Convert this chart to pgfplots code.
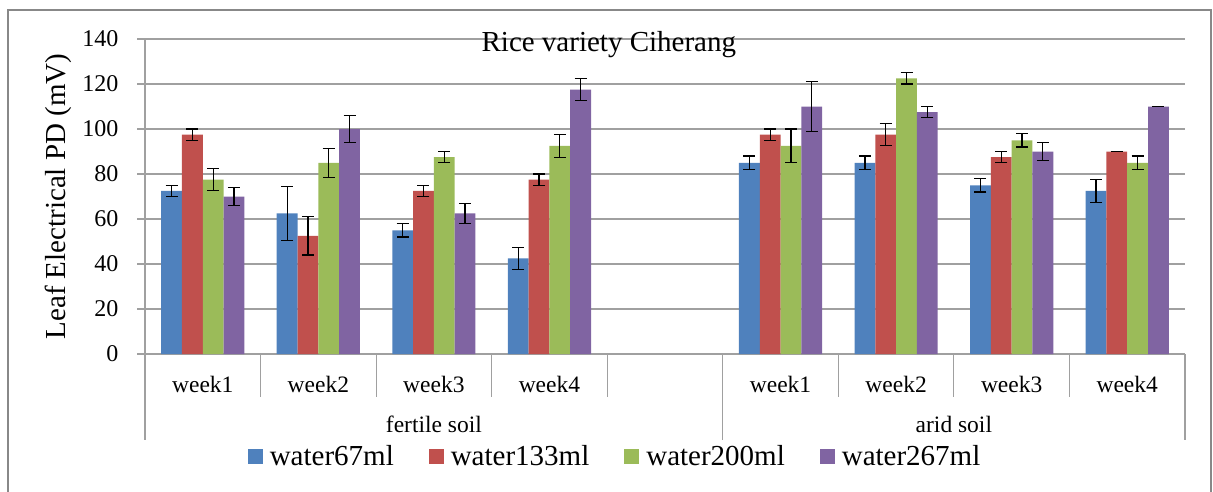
\documentclass[border=0pt]{standalone}
\usepackage{fontspec}
\setmainfont{Liberation Serif}
\usepackage{pgfplots}
\usepackage{pgfplotstable}
\pgfplotsset{compat=1.18}

\definecolor{cblue}{HTML}{4F81BD}
\definecolor{cred}{HTML}{C0504D}
\definecolor{cgreen}{HTML}{9BBB59}
\definecolor{cpurple}{HTML}{8064A2}
\definecolor{lgray}{HTML}{A0A0A0}
\definecolor{fgray}{HTML}{888888}

\newcommand{\tickfont}{\fontsize{24}{28}\selectfont}
\newcommand{\catfont}{\fontsize{23.5}{27}\selectfont}
\newcommand{\bigfont}{\fontsize{29}{33}\selectfont}

% water 67 ml
\pgfplotstableread{
x y e
0 72.5 2.5
1 62.5 12
2 55 3
3 42.5 5
5 85 3
6 85 3
7 75 3
8 72.5 5
}\tblA
% water 133 ml
\pgfplotstableread{
x y e
0 97.5 2.5
1 52.5 8.5
2 72.5 2.5
3 77.5 2.5
5 97.5 2.5
6 97.5 5
7 87.5 2.5
8 90 0
}\tblB
% water 200 ml
\pgfplotstableread{
x y e
0 77.5 5
1 85 6.5
2 87.5 2.5
3 92.5 5
5 92.5 7.5
6 122.5 2.5
7 95 3
8 85 3
}\tblC
% water 267 ml
\pgfplotstableread{
x y e
0 70 4
1 100 6
2 62.5 4.5
3 117.5 5
5 110 11
6 107.5 2.5
7 90 4
8 110 0
}\tblD

\begin{document}
\begin{tikzpicture}
\useasboundingbox (0pt,0pt) rectangle (1213pt,491pt);
\draw[fgray, line width=2pt] (8pt,-5pt) -- (8pt,481pt) -- (1211pt,481pt) -- (1211pt,-5pt);
\begin{axis}[
  at={(145pt,137pt)}, anchor=south west,
  scale only axis, width=1040pt, height=315pt,
  xmin=-0.5, xmax=8.5, ymin=0, ymax=140,
  ytick={0,20,...,140},
  xtick={0,1,2,3,5,6,7,8},
  xticklabels={week1,week2,week3,week4,week1,week2,week3,week4},
  axis x line*=bottom, axis y line*=left,
  axis line style={-, lgray, line width=1.2pt},
  ymajorgrids, grid style={lgray, line width=1.2pt},
  tick align=outside, major tick length=8pt,
  ytick style={lgray, line width=1.2pt},
  xtick style={draw=none},
  /pgf/number format/assume math mode=true,
  yticklabel style={font=\tickfont, xshift=-15pt},
  xticklabel style={font=\catfont, anchor=base, yshift=-30pt},
  ylabel={Leaf Electrical PD (mV)},
  ylabel style={font=\bigfont, at={(axis description cs:-0.0837,0.5)}, anchor=center},
  title={Rice variety Ciherang},
  title style={font=\bigfont, at={(axis description cs:0.446,0.9397)}, anchor=base},
  ybar=0pt, bar width=20.8pt,
  clip=false,
  every axis plot/.append style={legend image code/.code={\fill[##1] (0pt,-7.5pt) rectangle (15pt,7.5pt);}},
  legend columns=4,
  legend style={at={(axis description cs:0.452,-0.325)}, anchor=center, draw=none, fill=none,
    font=\bigfont,
    /tikz/every odd column/.append style={column sep=5pt},
    /tikz/every even column/.append style={column sep=33pt}},
  error bars/y dir=both, error bars/y explicit,
  error bars/error bar style={black, line width=1.2pt},
  error bars/error mark options={black, rotate=90, mark size=6pt, line width=1.2pt},
]
\addplot[fill=cblue, draw=none] table[x=x, y=y, y error=e] {\tblA};
\addplot[fill=cred, draw=none] table[x=x, y=y, y error=e] {\tblB};
\addplot[fill=cgreen, draw=none] table[x=x, y=y, y error=e] {\tblC};
\addplot[fill=cpurple, draw=none] table[x=x, y=y, y error=e] {\tblD};
\legend{water67ml, water133ml, water200ml, water267ml}
% category separators
\pgfplotsinvokeforeach{0.5,1.5,2.5,3.5,5.5,6.5,7.5}{
  \draw[lgray, line width=1.2pt] (axis cs:#1,0) -- ++(0pt,-43pt);
}
\pgfplotsinvokeforeach{-0.5,4.5,8.5}{
  \draw[lgray, line width=1.2pt] (axis cs:#1,0) -- ++(0pt,-86pt);
}
\node[font=\catfont, anchor=base] at (axis cs:2,0) [yshift=-78.7pt] {fertile soil};
\node[font=\catfont, anchor=base] at (axis cs:6.5,0) [yshift=-78.7pt] {arid soil};
\end{axis}
\end{tikzpicture}
\end{document}
